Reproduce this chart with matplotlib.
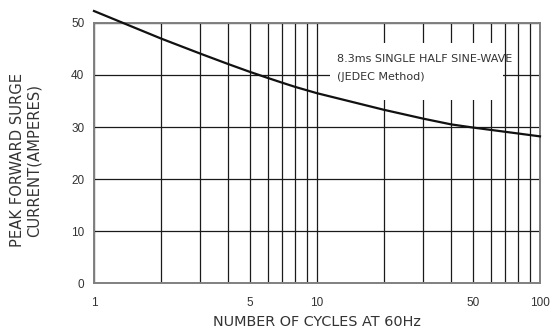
import matplotlib
matplotlib.use("Agg")
import matplotlib.pyplot as plt
from matplotlib.patches import Rectangle
from matplotlib.ticker import FixedLocator, NullFormatter, LogLocator

# Peak forward surge current vs. number of cycles at 60 Hz
cycles = [1, 2, 3, 4, 5, 6, 7, 8, 10, 20, 30, 40, 50, 100]
current = [52.3, 47.0, 44.1, 42.1, 40.6, 39.45, 38.5, 37.7, 36.5, 33.3, 31.6, 30.5, 29.9, 28.2]

x_ticks = [1, 5, 10, 50, 100]
x_tick_labels = ["1", "5", "10", "50", "100"]
y_ticks = [0, 10, 20, 30, 40, 50]

fig = plt.figure(figsize=(5.51, 3.33), dpi=100)
ax = fig.add_axes([0.1706, 0.150, 0.8094, 0.781])

ax.set_xscale("log")
ax.set_xlim(1, 100)
ax.set_ylim(0, 50)

ax.xaxis.set_major_locator(FixedLocator(x_ticks))
ax.xaxis.set_minor_locator(LogLocator(base=10, subs=range(2, 10)))
ax.xaxis.set_minor_formatter(NullFormatter())
ax.set_xticklabels(x_tick_labels)
ax.set_yticks(y_ticks)

ax.grid(True, which="both", axis="x", color="#1a1a1a", linewidth=0.9, zorder=1)
ax.grid(True, which="major", axis="y", color="#1a1a1a", linewidth=0.9, zorder=1)
ax.set_axisbelow(True)

ax.tick_params(which="both", length=0)
ax.tick_params(axis="y", pad=7, labelsize=8.5, labelcolor="#333333")
ax.tick_params(axis="x", pad=10, labelsize=8.5, labelcolor="#333333")
for lbl in ax.get_xticklabels() + ax.get_yticklabels():
    lbl.set_family("Liberation Sans")

for side in ("top", "bottom", "left", "right"):
    ax.spines[side].set_color("#808080")
    ax.spines[side].set_linewidth(1.4)

# white panel behind the test-condition note
ax.add_patch(Rectangle((0.529, 0.704), 0.388, 0.219, transform=ax.transAxes,
                       facecolor="white", edgecolor="none", zorder=2))
ax.text(0.545, 0.85, "8.3ms SINGLE HALF SINE-WAVE", transform=ax.transAxes,
        ha="left", va="baseline", fontsize=8, color="#333333", zorder=3)
ax.text(0.545, 0.781, "(JEDEC Method)", transform=ax.transAxes,
        ha="left", va="baseline", fontsize=8, color="#333333", zorder=3)

ax.plot(cycles, current, color="#111111", linewidth=1.6, clip_on=False, zorder=4)

ax.set_xlabel("NUMBER OF CYCLES AT 60Hz", fontsize=10.4, color="#333333")
ax.xaxis.set_label_coords(0.501, -0.122)
ax.set_ylabel("PEAK FORWARD SURGE\nCURRENT(AMPERES)", fontsize=10.6, color="#333333",
              linespacing=1.14)
ax.yaxis.set_label_coords(-0.118, 0.473)

fig.savefig("out.png", dpi=100)
